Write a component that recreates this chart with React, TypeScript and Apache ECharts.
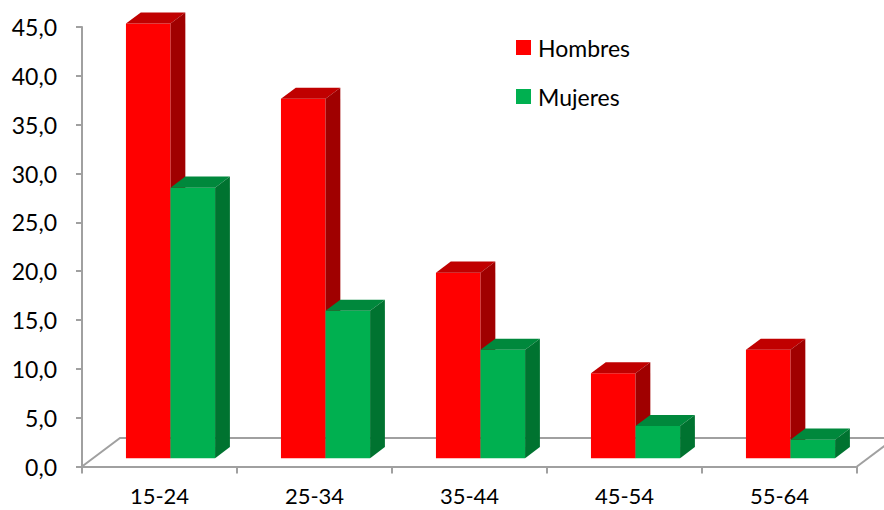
import React, { useEffect, useRef } from 'react';
import * as echarts from 'echarts';

const categories = ['15-24', '25-34', '35-44', '45-54', '55-64'];
const hombres = [44.5, 36.8, 19.0, 8.7, 11.1];
const mujeres = [27.7, 15.1, 11.1, 3.3, 1.9];
const seriesNames = ['Hombres', 'Mujeres'];
const yMin = 0;
const yMax = 45;
const yInterval = 5;

// 3D look (layout constants)
const FLOOR_DX = 38;
const FLOOR_DY = -28.5;
const BAR_DEPTH_START = 0.29;
const BAR_DEPTH = 0.39;
const BAR_WIDTH_FRAC = 0.2875;
const AXIS_GREY = '#A0A0A0';
const FONT = 'Lato';

const RED = { front: '#FF0000', top: '#C00000', side: '#A00000' };
const GREEN = { front: '#00B050', top: '#00883C', side: '#007330' };

function barRenderer(side: 'left' | 'right', colors: { front: string; top: string; side: string }) {
  return (params: any, api: any) => {
    const i = api.value(0);
    const v = api.value(1);
    const base = api.coord([i, 0]);
    const top = api.coord([i, v]);
    const cw = api.size([1, 0])[0];
    const bw = cw * BAR_WIDTH_FRAC;
    const sx = FLOOR_DX * BAR_DEPTH_START;
    const sy = FLOOR_DY * BAR_DEPTH_START;
    const dx = FLOOR_DX * BAR_DEPTH;
    const dy = FLOOR_DY * BAR_DEPTH;
    const x0 = base[0] + (side === 'left' ? -bw : 0) + sx;
    const x1 = x0 + bw;
    const yb = base[1] + sy;
    const yt = top[1] + sy;
    return {
      type: 'group',
      children: [
        { type: 'rect', shape: { x: x0, y: yt, width: bw, height: yb - yt }, style: { fill: colors.front } },
        {
          type: 'polygon',
          shape: { points: [[x0, yt], [x1, yt], [x1 + dx, yt + dy], [x0 + dx, yt + dy]] },
          style: { fill: colors.top },
        },
        {
          type: 'polygon',
          shape: { points: [[x1, yt], [x1 + dx, yt + dy], [x1 + dx, yb + dy], [x1, yb]] },
          style: { fill: colors.side },
        },
      ],
    };
  };
}

function floorRenderer(params: any, api: any) {
  const cs = params.coordSys;
  const xl = cs.x;
  const xr = cs.x + cs.width;
  const y0 = cs.y + cs.height;
  const lineStyle = { stroke: AXIS_GREY, lineWidth: 2, fill: 'none' };
  return {
    type: 'group',
    children: [
      { type: 'polyline', shape: { points: [[xl, y0], [xl + FLOOR_DX, y0 + FLOOR_DY], [xr + FLOOR_DX, y0 + FLOOR_DY]] }, style: lineStyle },
      { type: 'line', shape: { x1: xr, y1: y0, x2: xr + FLOOR_DX, y2: y0 + FLOOR_DY }, style: lineStyle },
    ],
  };
}

export default function App() {
  const ref = useRef<HTMLDivElement>(null);
  useEffect(() => {
    document.body.style.margin = '0';
    if (!ref.current) return;
    const chart = echarts.init(ref.current, undefined, { renderer: 'svg' });
    chart.setOption({
      animation: false,
      backgroundColor: '#FFFFFF',
      grid: { left: 82, right: 27, top: 27, bottom: 43.5, containLabel: false },
      legend: {
        orient: 'vertical',
        left: 516,
        top: 36,
        padding: 0,
        itemWidth: 15,
        itemHeight: 15,
        itemGap: 26,
        icon: 'rect',
        data: seriesNames,
        textStyle: { fontFamily: FONT, fontSize: 23, color: '#000', padding: [0, 0, 0, 2] },
      },
      xAxis: {
        type: 'category',
        data: categories,
        boundaryGap: true,
        axisLine: { show: true, lineStyle: { color: AXIS_GREY, width: 2 } },
        axisTick: { show: true, length: 7, alignWithLabel: false, lineStyle: { color: AXIS_GREY, width: 2 } },
        axisLabel: { fontFamily: FONT, fontSize: 22, lineHeight: 22, color: '#000', margin: 18 },
        splitLine: { show: false },
      },
      yAxis: {
        type: 'value',
        min: yMin,
        max: yMax,
        interval: yInterval,
        axisLine: { show: true, lineStyle: { color: AXIS_GREY, width: 2 } },
        axisTick: { show: true, length: 6, lineStyle: { color: AXIS_GREY, width: 2 } },
        axisLabel: {
          fontFamily: FONT,
          fontSize: 23,
          color: '#000',
          margin: 25,
          formatter: (v: number) => v.toFixed(1).replace('.', ','),
        },
        splitLine: { show: false },
      },
      series: [
        {
          name: 'floor',
          type: 'custom',
          z: 1,
          silent: true,
          renderItem: floorRenderer,
          data: [[0, 0]],
          encode: { x: 0, y: 1 },
        },
        {
          name: seriesNames[0],
          type: 'custom',
          z: 2,
          itemStyle: { color: RED.front },
          renderItem: barRenderer('left', RED),
          data: hombres.map((v, i) => [i, v]),
          encode: { x: 0, y: 1 },
        },
        {
          name: seriesNames[1],
          type: 'custom',
          z: 3,
          itemStyle: { color: GREEN.front },
          renderItem: barRenderer('right', GREEN),
          data: mujeres.map((v, i) => [i, v]),
          encode: { x: 0, y: 1 },
        },
      ],
    });
    return () => chart.dispose();
  }, []);
  return <div ref={ref} style={{ width: 884, height: 510 }} />;
}
